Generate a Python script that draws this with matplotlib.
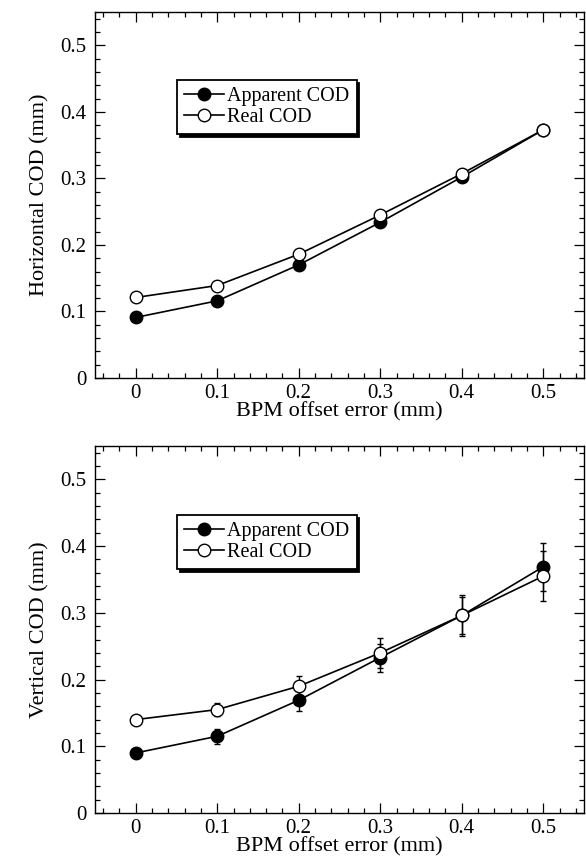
import numpy as np
import matplotlib
matplotlib.use("Agg")
import matplotlib.pyplot as plt
from matplotlib.ticker import MultipleLocator, FuncFormatter

plt.rcParams["font.family"] = ["Liberation Serif", "DejaVu Serif"]

offset = [0.0, 0.1, 0.2, 0.3, 0.4, 0.5]

# horizontal COD (mm)
h_apparent = [0.091, 0.116, 0.170, 0.234, 0.302, 0.373]
h_real     = [0.121, 0.139, 0.186, 0.245, 0.307, 0.373]

# vertical COD (mm) with rms spread
v_apparent     = [0.090, 0.115, 0.169, 0.233, 0.296, 0.369]
v_apparent_err = [0.003, 0.011, 0.016, 0.021, 0.030, 0.036]
v_real         = [0.140, 0.155, 0.190, 0.240, 0.296, 0.355]
v_real_err     = [0.003, 0.010, 0.016, 0.022, 0.028, 0.038]

W, H = 586, 861
fig = plt.figure(figsize=(W / 100, H / 100), dpi=100)
ax_h = fig.add_axes([95 / W, 1 - 378 / H, 489 / W, 366 / H])
ax_v = fig.add_axes([95 / W, 1 - 813 / H, 489 / W, 367 / H])

fmt = FuncFormatter(lambda v, p: "0" if abs(v) < 1e-9 else f"{v:.1f}")


def style(ax, ylabel):
    ax.set_xlim(-0.05, 0.55)
    ax.set_ylim(0, 0.55)
    ax.xaxis.set_major_locator(MultipleLocator(0.1))
    ax.xaxis.set_minor_locator(MultipleLocator(0.02))
    ax.yaxis.set_major_locator(MultipleLocator(0.1))
    ax.yaxis.set_minor_locator(MultipleLocator(0.02))
    ax.xaxis.set_major_formatter(fmt)
    ax.yaxis.set_major_formatter(fmt)
    ax.tick_params(which="both", direction="in", top=True, right=True,
                   labelsize=15, width=0.9)
    ax.tick_params(axis="x", pad=4)
    ax.tick_params(axis="y", pad=6)
    ax.tick_params(which="major", length=7)
    ax.tick_params(which="minor", length=3.5)
    for sp in ax.spines.values():
        sp.set_linewidth(1.0)
    ax.set_xlabel("BPM offset error (mm)", fontsize=16, labelpad=0)
    ax.set_ylabel(ylabel, fontsize=16, labelpad=8)


def add_legend(ax, top):
    leg = ax.legend(loc="upper left", bbox_to_anchor=(0.168, top),
                    fontsize=14.5, frameon=True, fancybox=False,
                    shadow={"color": "black", "alpha": 1.0},
                    handlelength=2.0, handletextpad=0.15, labelspacing=0.1,
                    borderpad=0.35, borderaxespad=0)
    leg.get_frame().set_edgecolor("black")
    leg.get_frame().set_linewidth(1.3)


mk = dict(color="black", lw=1.2, ms=9, mec="black", mew=1.0)
eb = dict(fmt="none", ecolor="black", capsize=2, elinewidth=1.0, capthick=1.0)

ax_h.plot(offset, h_apparent, marker="o", mfc="black", label="Apparent COD", **mk)
ax_h.plot(offset, h_real, marker="o", mfc="white", label="Real COD", **mk)
style(ax_h, "Horizontal COD (mm)")
add_legend(ax_h, 0.814)

ax_v.errorbar(offset, v_apparent, yerr=v_apparent_err, **eb)
ax_v.errorbar(offset, v_real, yerr=v_real_err, **eb)
ax_v.plot(offset, v_apparent, marker="o", mfc="black", label="Apparent COD", **mk)
ax_v.plot(offset, v_real, marker="o", mfc="white", label="Real COD", **mk)
style(ax_v, "Vertical COD (mm)")
add_legend(ax_v, 0.812)

fig.savefig("out.png", dpi=100)
